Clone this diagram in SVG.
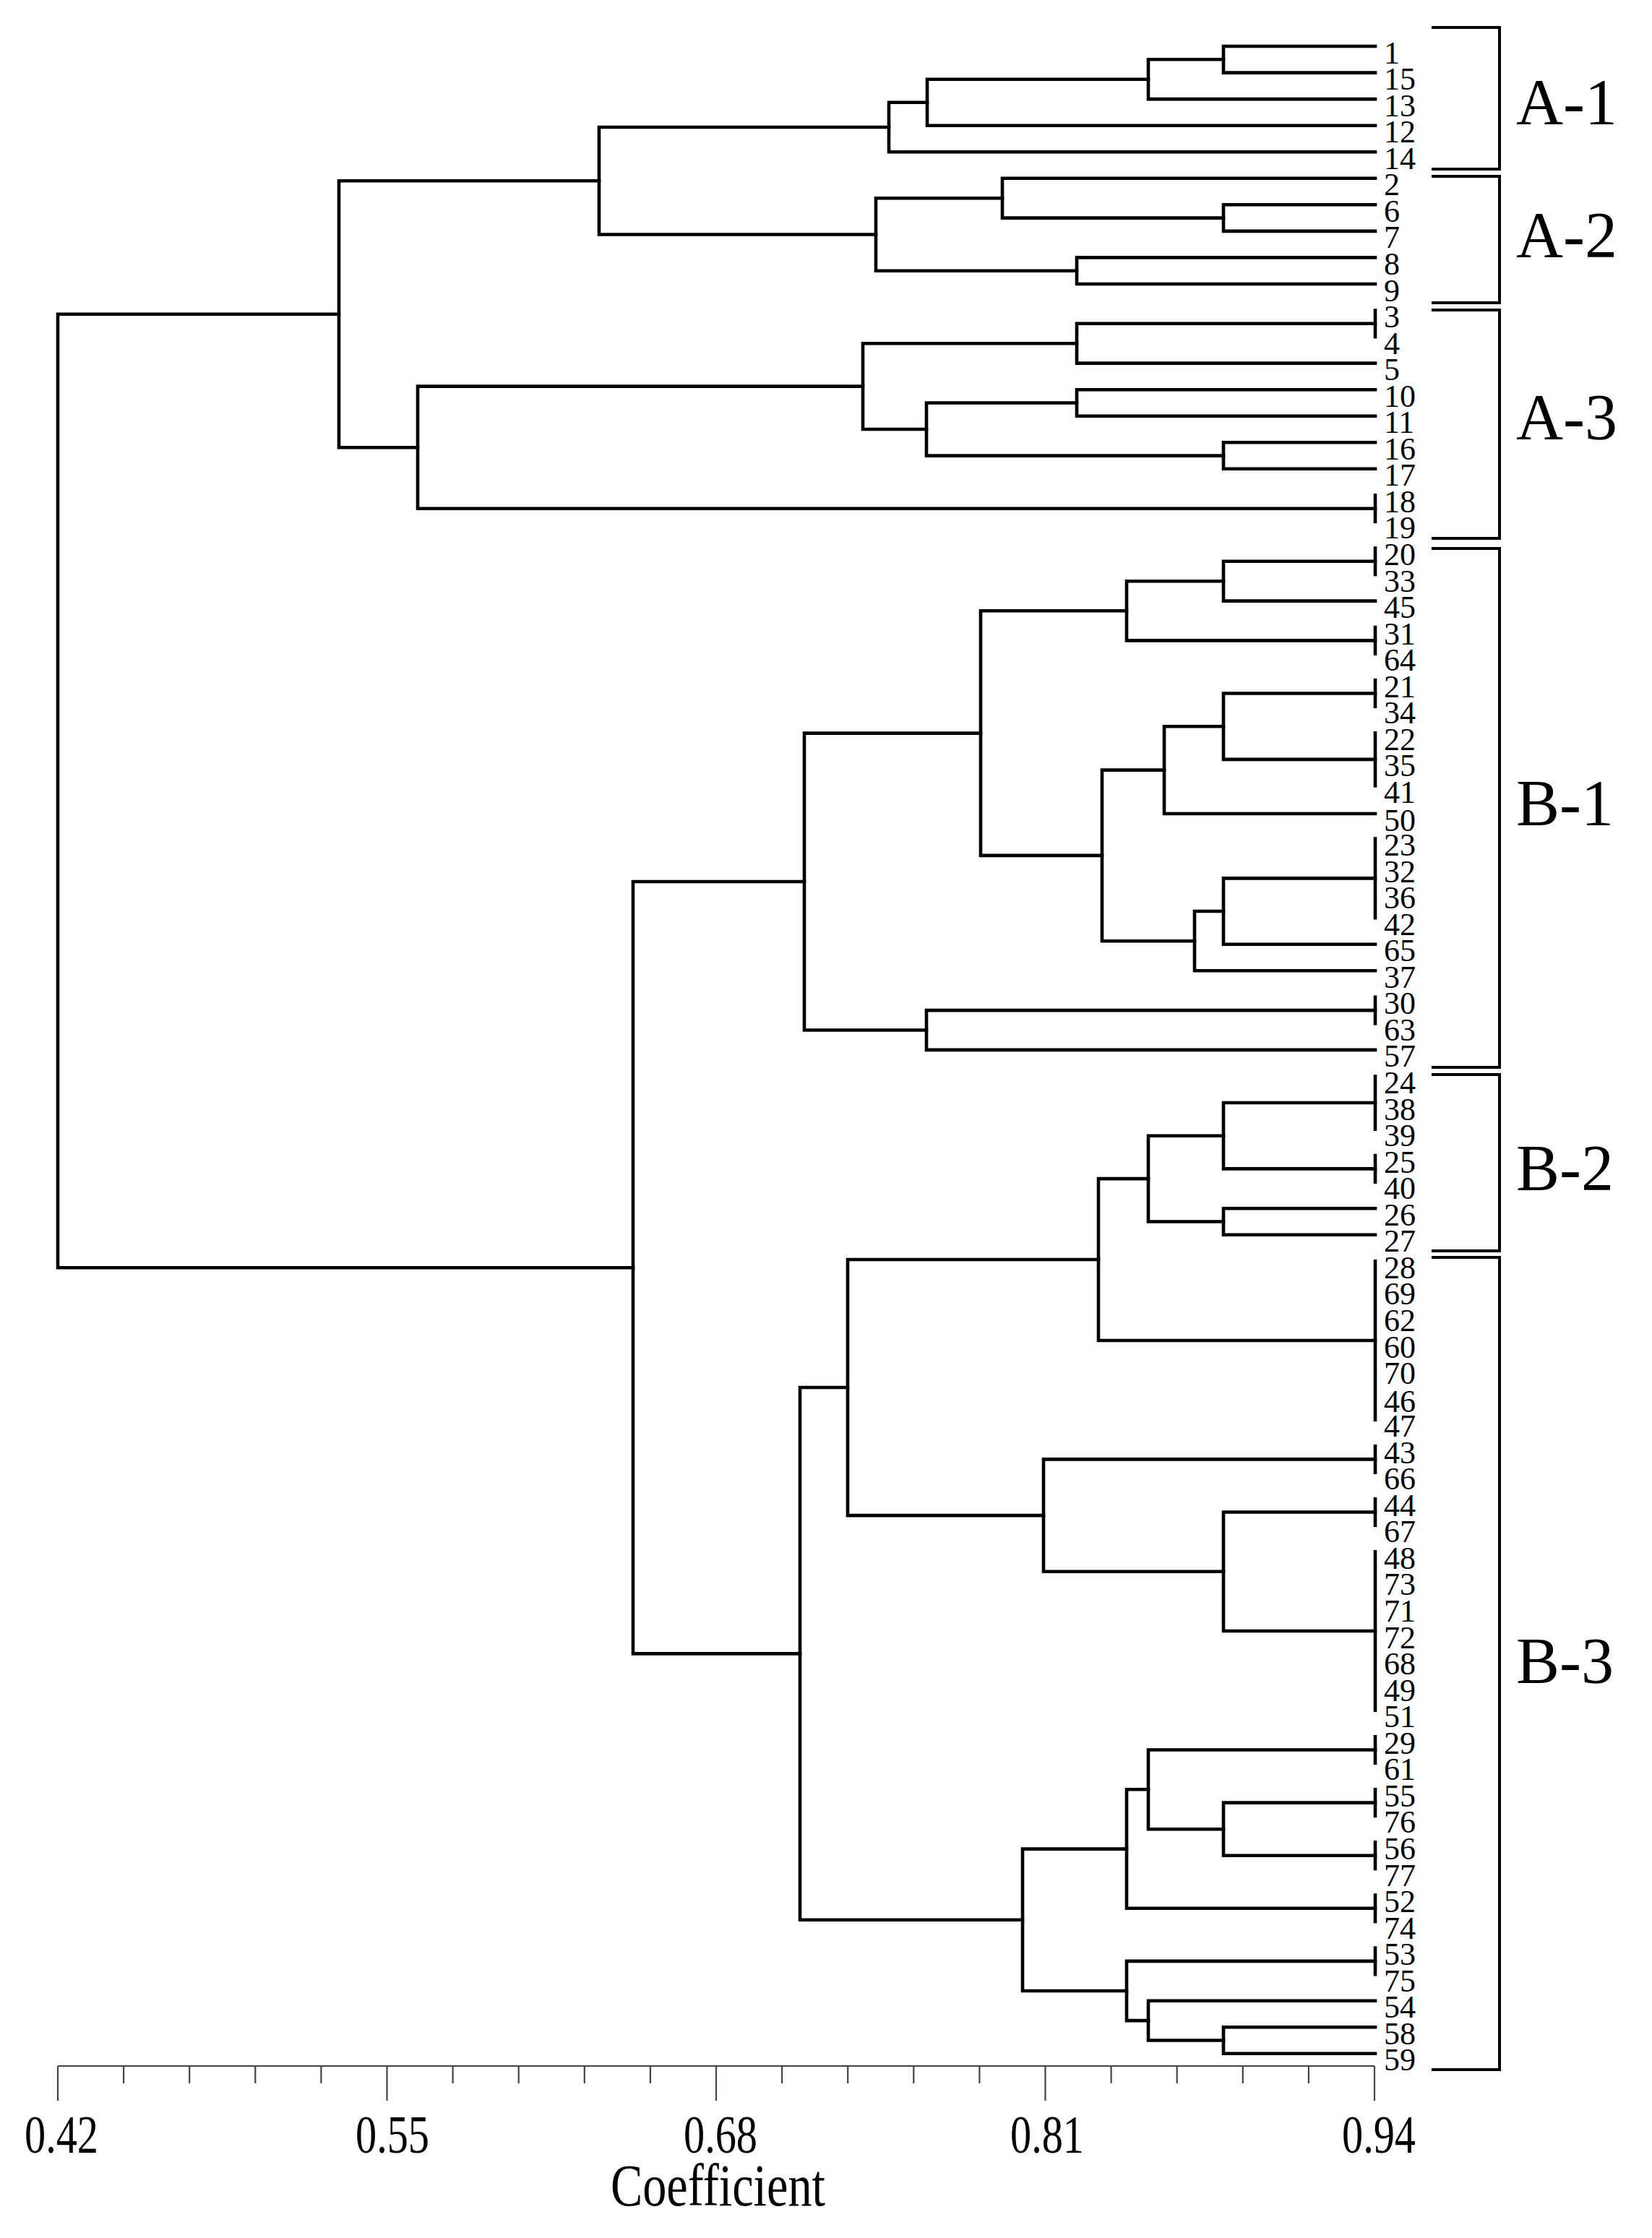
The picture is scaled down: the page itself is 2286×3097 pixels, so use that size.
<svg xmlns="http://www.w3.org/2000/svg" width="2286" height="3097" viewBox="0 0 2286 3097">
<style>
.ln{fill:none;stroke:#000;stroke-width:4.6;stroke-linecap:square;stroke-linejoin:miter}
.br{fill:none;stroke:#000;stroke-width:4}
.ax{fill:none;stroke:#444;stroke-width:2.2}
text{font-family:"Liberation Serif","Times New Roman",serif;fill:#000}
.lf{font-size:44px}
.gl{font-size:90px}
.tk{font-size:74px}
.ti{font-size:82px}
</style>
<rect width="2286" height="3097" fill="#fff"/>
<g id="connectors" class="ln">
<path d="M1903,64 H1693 V100.6 H1903"/>
<path d="M1693,82.3 H1589 V137.1 H1903"/>
<path d="M1589,109.7 H1283 V173.7 H1903"/>
<path d="M1283,141.7 H1230 V210.2 H1903"/>
<path d="M1903,283.3 H1693 V319.9 H1903"/>
<path d="M1903,246.8 H1387 V301.6 H1693"/>
<path d="M1903,356.4 H1490 V393 H1903"/>
<path d="M1387,274.2 H1212 V374.7 H1490"/>
<path d="M1230,176 H829 V324.5 H1212"/>
<path d="M1903,429.5 V466.1"/>
<path d="M1903,447.8 H1490 V502.6 H1903"/>
<path d="M1903,539.2 H1490 V575.7 H1903"/>
<path d="M1903,612.3 H1693 V648.8 H1903"/>
<path d="M1490,557.5 H1282 V630.6 H1693"/>
<path d="M1490,475.2 H1194 V594 H1282"/>
<path d="M1903,685.4 V721.9"/>
<path d="M1194,534.6 H578 V703.7 H1903"/>
<path d="M829,250.3 H469 V619.2 H578"/>
<path d="M1903,758.5 V795"/>
<path d="M1903,776.8 H1693 V831.6 H1903"/>
<path d="M1903,868.1 V904.7"/>
<path d="M1693,804.2 H1559 V886.4 H1903"/>
<path d="M1903,941.2 V977.8"/>
<path d="M1903,1014.3 V1087.4"/>
<path d="M1903,959.5 H1693 V1050.9 H1903"/>
<path d="M1693,1005.2 H1611 V1126 H1903"/>
<path d="M1903,1160.5 V1270.2"/>
<path d="M1903,1215.4 H1693 V1306.7 H1903"/>
<path d="M1693,1261 H1653 V1343.3 H1903"/>
<path d="M1611,1065.6 H1525 V1302.2 H1653"/>
<path d="M1559,845.3 H1357 V1183.9 H1525"/>
<path d="M1903,1379.8 V1416.4"/>
<path d="M1903,1398.1 H1282 V1452.9 H1903"/>
<path d="M1357,1014.6 H1113 V1425.5 H1282"/>
<path d="M1903,1489.5 V1562.6"/>
<path d="M1903,1599.1 V1635.7"/>
<path d="M1903,1526 H1693 V1617.4 H1903"/>
<path d="M1903,1672.2 H1693 V1708.8 H1903"/>
<path d="M1693,1571.7 H1589 V1690.5 H1693"/>
<path d="M1903,1745.3 V1964.6"/>
<path d="M1589,1631.1 H1520 V1855 H1903"/>
<path d="M1903,2001.2 V2037.7"/>
<path d="M1903,2074.3 V2110.8"/>
<path d="M1903,2147.4 V2366.7"/>
<path d="M1903,2092.5 H1693 V2257 H1903"/>
<path d="M1903,2019.4 H1444 V2174.8 H1693"/>
<path d="M1520,1743 H1173 V2097.1 H1444"/>
<path d="M1903,2403.2 V2439.8"/>
<path d="M1903,2476.3 V2512.9"/>
<path d="M1903,2549.4 V2586"/>
<path d="M1903,2494.6 H1693 V2567.7 H1903"/>
<path d="M1903,2421.5 H1589 V2531.2 H1693"/>
<path d="M1903,2622.5 V2659.1"/>
<path d="M1589,2476.3 H1559 V2640.8 H1903"/>
<path d="M1903,2695.6 V2732.2"/>
<path d="M1903,2805.3 H1693 V2841.8 H1903"/>
<path d="M1903,2768.7 H1589 V2823.5 H1693"/>
<path d="M1903,2713.9 H1559 V2796.1 H1589"/>
<path d="M1559,2558.6 H1415 V2755 H1559"/>
<path d="M1173,1920 H1107 V2656.8 H1415"/>
<path d="M1113,1220 H876 V2288.4 H1107"/>
<path d="M469,434.7 H80 V1754.2 H876"/>
</g>
<g id="leaves" class="lf">
<g id="leaf-1"><text x="1915" y="87.5">1</text></g>
<g id="leaf-15"><text x="1915" y="124.1">15</text></g>
<g id="leaf-13"><text x="1915" y="160.6">13</text></g>
<g id="leaf-12"><text x="1915" y="197.2">12</text></g>
<g id="leaf-14"><text x="1915" y="233.7">14</text></g>
<g id="leaf-2"><text x="1915" y="270.3">2</text></g>
<g id="leaf-6"><text x="1915" y="306.8">6</text></g>
<g id="leaf-7"><text x="1915" y="343.4">7</text></g>
<g id="leaf-8"><text x="1915" y="379.9">8</text></g>
<g id="leaf-9"><text x="1915" y="416.5">9</text></g>
<g id="leaf-3"><text x="1915" y="453">3</text></g>
<g id="leaf-4"><text x="1915" y="489.6">4</text></g>
<g id="leaf-5"><text x="1915" y="526.1">5</text></g>
<g id="leaf-10"><text x="1915" y="562.7">10</text></g>
<g id="leaf-11"><text x="1915" y="599.2">11</text></g>
<g id="leaf-16"><text x="1915" y="635.8">16</text></g>
<g id="leaf-17"><text x="1915" y="672.3">17</text></g>
<g id="leaf-18"><text x="1915" y="708.9">18</text></g>
<g id="leaf-19"><text x="1915" y="745.4">19</text></g>
<g id="leaf-20"><text x="1915" y="782">20</text></g>
<g id="leaf-33"><text x="1915" y="818.5">33</text></g>
<g id="leaf-45"><text x="1915" y="855.1">45</text></g>
<g id="leaf-31"><text x="1915" y="891.6">31</text></g>
<g id="leaf-64"><text x="1915" y="928.2">64</text></g>
<g id="leaf-21"><text x="1915" y="964.7">21</text></g>
<g id="leaf-34"><text x="1915" y="1001.3">34</text></g>
<g id="leaf-22"><text x="1915" y="1037.8">22</text></g>
<g id="leaf-35"><text x="1915" y="1074.4">35</text></g>
<g id="leaf-41"><text x="1915" y="1110.9">41</text></g>
<g id="leaf-50"><text x="1915" y="1149.5">50</text></g>
<g id="leaf-23"><text x="1915" y="1184">23</text></g>
<g id="leaf-32"><text x="1915" y="1220.6">32</text></g>
<g id="leaf-36"><text x="1915" y="1257.1">36</text></g>
<g id="leaf-42"><text x="1915" y="1293.7">42</text></g>
<g id="leaf-65"><text x="1915" y="1330.2">65</text></g>
<g id="leaf-37"><text x="1915" y="1366.8">37</text></g>
<g id="leaf-30"><text x="1915" y="1403.3">30</text></g>
<g id="leaf-63"><text x="1915" y="1439.9">63</text></g>
<g id="leaf-57"><text x="1915" y="1476.4">57</text></g>
<g id="leaf-24"><text x="1915" y="1513">24</text></g>
<g id="leaf-38"><text x="1915" y="1549.5">38</text></g>
<g id="leaf-39"><text x="1915" y="1586.1">39</text></g>
<g id="leaf-25"><text x="1915" y="1622.6">25</text></g>
<g id="leaf-40"><text x="1915" y="1659.2">40</text></g>
<g id="leaf-26"><text x="1915" y="1695.7">26</text></g>
<g id="leaf-27"><text x="1915" y="1732.3">27</text></g>
<g id="leaf-28"><text x="1915" y="1768.8">28</text></g>
<g id="leaf-69"><text x="1915" y="1805.4">69</text></g>
<g id="leaf-62"><text x="1915" y="1841.9">62</text></g>
<g id="leaf-60"><text x="1915" y="1878.5">60</text></g>
<g id="leaf-70"><text x="1915" y="1915">70</text></g>
<g id="leaf-46"><text x="1915" y="1954">46</text></g>
<g id="leaf-47"><text x="1915" y="1988.1">47</text></g>
<g id="leaf-43"><text x="1915" y="2024.7">43</text></g>
<g id="leaf-66"><text x="1915" y="2061.2">66</text></g>
<g id="leaf-44"><text x="1915" y="2097.8">44</text></g>
<g id="leaf-67"><text x="1915" y="2134.3">67</text></g>
<g id="leaf-48"><text x="1915" y="2170.9">48</text></g>
<g id="leaf-73"><text x="1915" y="2207.4">73</text></g>
<g id="leaf-71"><text x="1915" y="2244">71</text></g>
<g id="leaf-72"><text x="1915" y="2280.5">72</text></g>
<g id="leaf-68"><text x="1915" y="2317.1">68</text></g>
<g id="leaf-49"><text x="1915" y="2353.6">49</text></g>
<g id="leaf-51"><text x="1915" y="2390.2">51</text></g>
<g id="leaf-29"><text x="1915" y="2426.7">29</text></g>
<g id="leaf-61"><text x="1915" y="2463.3">61</text></g>
<g id="leaf-55"><text x="1915" y="2499.8">55</text></g>
<g id="leaf-76"><text x="1915" y="2536.4">76</text></g>
<g id="leaf-56"><text x="1915" y="2572.9">56</text></g>
<g id="leaf-77"><text x="1915" y="2609.5">77</text></g>
<g id="leaf-52"><text x="1915" y="2646">52</text></g>
<g id="leaf-74"><text x="1915" y="2682.6">74</text></g>
<g id="leaf-53"><text x="1915" y="2719.1">53</text></g>
<g id="leaf-75"><text x="1915" y="2755.7">75</text></g>
<g id="leaf-54"><text x="1915" y="2792.2">54</text></g>
<g id="leaf-58"><text x="1915" y="2828.8">58</text></g>
<g id="leaf-59"><text x="1915" y="2865.3">59</text></g>
</g>
<g id="group-A-1"><path class="br" d="M1981,38 H2075 V234 H1981"/><text class="gl" x="2098" y="172">A-1</text></g>
<g id="group-A-2"><path class="br" d="M1981,244 H2075 V419 H1981"/><text class="gl" x="2098" y="356">A-2</text></g>
<g id="group-A-3"><path class="br" d="M1981,429 H2075 V745 H1981"/><text class="gl" x="2098" y="608">A-3</text></g>
<g id="group-B-1"><path class="br" d="M1981,759 H2075 V1477 H1981"/><text class="gl" x="2098" y="1142">B-1</text></g>
<g id="group-B-2"><path class="br" d="M1981,1487 H2075 V1731 H1981"/><text class="gl" x="2098" y="1647">B-2</text></g>
<g id="group-B-3"><path class="br" d="M1981,1740 H2075 V2864 H1981"/><text class="gl" x="2098" y="2329">B-3</text></g>
<g id="axis">
<path class="ax" d="M80,2859 H1902 M80,2859 V2907 M535.5,2859 V2907 M991,2859 V2907 M1446.5,2859 V2907 M1902,2859 V2907 M171.1,2859 V2883 M262.2,2859 V2883 M353.3,2859 V2883 M444.4,2859 V2883 M626.6,2859 V2883 M717.7,2859 V2883 M808.8,2859 V2883 M899.9,2859 V2883 M1082.1,2859 V2883 M1173.2,2859 V2883 M1264.3,2859 V2883 M1355.4,2859 V2883 M1537.6,2859 V2883 M1628.7,2859 V2883 M1719.8,2859 V2883 M1810.9,2859 V2883"/>
<text class="tk" x="34" y="2979" textLength="102" lengthAdjust="spacingAndGlyphs">0.42</text>
<text class="tk" x="492" y="2979" textLength="102" lengthAdjust="spacingAndGlyphs">0.55</text>
<text class="tk" x="946" y="2979" textLength="102" lengthAdjust="spacingAndGlyphs">0.68</text>
<text class="tk" x="1398" y="2979" textLength="102" lengthAdjust="spacingAndGlyphs">0.81</text>
<text class="tk" x="1857" y="2979" textLength="102" lengthAdjust="spacingAndGlyphs">0.94</text>
<text class="ti" x="845" y="3052" textLength="297" lengthAdjust="spacingAndGlyphs">Coefficient</text>
</g>
</svg>
